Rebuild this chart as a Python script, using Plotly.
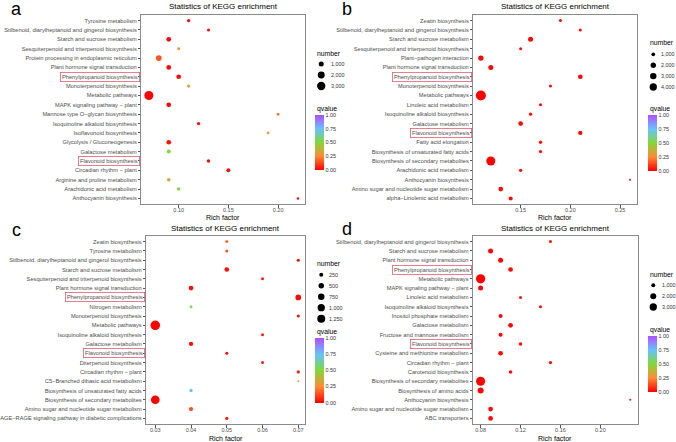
import numpy as np
import plotly.graph_objects as go

W, H = 676, 442

# ---------------- data ----------------
a_terms = ["Tyrosine metabolism", "Stilbenoid, diarylheptanoid and gingerol biosynthesis",
           "Starch and sucrose metabolism", "Sesquiterpenoid and triterpenoid biosynthesis",
           "Protein processing in endoplasmic reticulum", "Plant hormone signal transduction",
           "Phenylpropanoid biosynthesis", "Monoterpenoid biosynthesis", "Metabolic pathways",
           "MAPK signaling pathway − plant", "Mannose type O−glycan biosynthesis",
           "Isoquinoline alkaloid biosynthesis", "Isoflavonoid biosynthesis",
           "Glycolysis / Gluconeogenesis", "Galactose metabolism", "Flavonoid biosynthesis",
           "Circadian rhythm − plant", "Arginine and proline metabolism",
           "Arachidonic acid metabolism", "Anthocyanin biosynthesis"]
a_rich = [0.11, 0.13, 0.09, 0.10, 0.08, 0.09, 0.10, 0.11, 0.07, 0.09,
          0.20, 0.12, 0.19, 0.09, 0.09, 0.13, 0.15, 0.09, 0.10, 0.22]
a_number = [590, 561, 900, 560, 1290, 900, 900, 565, 3629, 900,
            543, 590, 545, 890, 710, 616, 700, 620, 615, 543]
a_qvalue = [0.01, 0.02, 0.01, 0.30, 0.15, 0.01, 0.02, 0.30, 0.00, 0.01,
            0.15, 0.02, 0.30, 0.03, 0.50, 0.02, 0.02, 0.30, 0.50, 0.02]

b_terms = ["Zeatin biosynthesis", "Stilbenoid, diarylheptanoid and gingerol biosynthesis",
           "Starch and sucrose metabolism", "Sesquiterpenoid and triterpenoid biosynthesis",
           "Plant−pathogen interaction", "Plant hormone signal transduction",
           "Phenylpropanoid biosynthesis", "Monoterpenoid biosynthesis", "Metabolic pathways",
           "Linoleic acid metabolism", "Isoquinoline alkaloid biosynthesis", "Galactose metabolism",
           "Flavonoid biosynthesis", "Fatty acid elongation",
           "Biosynthesis of unsaturated fatty acids", "Biosynthesis of secondary metabolites",
           "Arachidonic acid metabolism", "Anthocyanin biosynthesis",
           "Amino sugar and nucleotide sugar metabolism", "alpha−Linolenic acid metabolism"]
b_rich = [0.19, 0.21, 0.16, 0.15, 0.11, 0.12, 0.21, 0.18, 0.11, 0.17,
          0.16, 0.15, 0.21, 0.17, 0.17, 0.12, 0.15, 0.26, 0.13, 0.14]
b_number = [780, 780, 1730, 780, 1950, 1730, 1520, 780, 8271, 790,
            860, 1520, 1300, 860, 860, 6490, 860, 657, 1520, 1130]
b_qvalue = [0.02, 0.02, 0.01, 0.02, 0.01, 0.01, 0.01, 0.02, 0.00, 0.02,
            0.02, 0.01, 0.01, 0.02, 0.02, 0.00, 0.02, 0.03, 0.01, 0.02]

c_terms = ["Zeatin biosynthesis", "Tyrosine metabolism",
           "Stilbenoid, diarylheptanoid and gingerol biosynthesis",
           "Starch and sucrose metabolism", "Sesquiterpenoid and triterpenoid biosynthesis",
           "Plant hormone signal transduction", "Phenylpropanoid biosynthesis",
           "Nitrogen metabolism", "Monoterpenoid biosynthesis", "Metabolic pathways",
           "Isoquinoline alkaloid biosynthesis", "Galactose metabolism", "Flavonoid biosynthesis",
           "Diterpenoid biosynthesis", "Circadian rhythm − plant",
           "C5−Branched dibasic acid metabolism", "Biosynthesis of unsaturated fatty acids",
           "Biosynthesis of secondary metabolites", "Amino sugar and nucleotide sugar metabolism",
           "AGE−RAGE signaling pathway in diabetic complications"]
c_rich = [0.05, 0.05, 0.07, 0.05, 0.06, 0.04, 0.07, 0.04, 0.07, 0.03,
          0.06, 0.04, 0.05, 0.06, 0.07, 0.07, 0.04, 0.03, 0.04, 0.05]
c_number = [150, 156, 156, 350, 156, 350, 550, 156, 156, 1882,
            156, 290, 156, 156, 175, 125, 175, 1500, 290, 175]
c_qvalue = [0.15, 0.15, 0.02, 0.03, 0.05, 0.02, 0.02, 0.55, 0.02, 0.00,
            0.05, 0.02, 0.02, 0.05, 0.05, 0.30, 0.75, 0.00, 0.15, 0.05]

d_terms = ["Stilbenoid, diarylheptanoid and gingerol biosynthesis",
           "Starch and sucrose metabolism", "Plant hormone signal transduction",
           "Phenylpropanoid biosynthesis", "Metabolic pathways", "MAPK signaling pathway − plant",
           "Linoleic acid metabolism", "Isoquinoline alkaloid biosynthesis",
           "Inositol phosphate metabolism", "Galactose metabolism",
           "Fructose and mannose metabolism", "Flavonoid biosynthesis",
           "Cysteine and methionine metabolism", "Circadian rhythm − plant",
           "Carotenoid biosynthesis", "Biosynthesis of secondary metabolites",
           "Biosynthesis of amino acids", "Anthocyanin biosynthesis",
           "Amino sugar and nucleotide sugar metabolism", "ABC transporters"]
d_rich = [0.15, 0.09, 0.10, 0.11, 0.08, 0.08, 0.12, 0.14, 0.10, 0.11,
          0.10, 0.12, 0.10, 0.15, 0.11, 0.08, 0.08, 0.23, 0.09, 0.09]
d_number = [750, 1414, 1414, 1270, 5093, 1414, 750, 750, 1000, 1270,
            1000, 855, 1270, 800, 855, 4750, 2000, 668, 1270, 1270]
d_qvalue = [0.02, 0.01, 0.01, 0.01, 0.00, 0.01, 0.02, 0.02, 0.01, 0.01,
            0.01, 0.02, 0.01, 0.02, 0.02, 0.00, 0.01, 0.03, 0.01, 0.01]

a_breaks = [1000, 2000, 3000]
b_breaks = [1000, 2000, 3000, 4000]
c_breaks = [250, 500, 750, 1000, 1250]
d_breaks = [1000, 2000, 3000]

a_xticks = [0.10, 0.15, 0.20]
b_xticks = [0.15, 0.20, 0.25]
c_xticks = [0.03, 0.04, 0.05, 0.06, 0.07]
d_xticks = [0.08, 0.12, 0.16, 0.20]

q_ticks = [0.0, 0.25, 0.5, 0.75, 1.0]
boxed = ["Phenylpropanoid biosynthesis", "Flavonoid biosynthesis"]
panel_labels = ["a", "b", "c", "d"]

# ---------------- styling / layout helpers ----------------
FONT = "Liberation Sans, Arial, sans-serif"
COLORSCALE = [[0.0, "#FF0000"], [0.25, "#FF8A33"], [0.5, "#80D936"],
              [0.75, "#66C2FF"], [1.0, "#B34DFF"]]
BORDER = "#8A8A8A"
TICKTXT = "#4D4D4D"
CAT_FS = 5.7
TICK_FS = 5.5


def px(x):
    return x / W


def py(y):
    return 1 - y / H


def diam(vals, ref, dmin, dmax):
    vals = np.asarray(vals, dtype=float)
    lo, hi = min(ref), max(ref)
    return dmin + (dmax - dmin) * np.sqrt(np.clip((vals - lo) / (hi - lo), 0, 1))


panels = [
    dict(terms=a_terms, rich=a_rich, num=a_number, q=a_qvalue, breaks=a_breaks,
         xticks=a_xticks, xr=[0.0625, 0.2275], box=(135, 301, 15, 204),
         dsz=(2.5, 9.0), cb=(311, 115, 55), leg=(317, 64, 11, 325),
         numtitle=(311, 53), qtitle=(311, 109), rich_y=217.5, title_y=7, lab=(8.5, 8.5)),
    dict(terms=b_terms, rich=b_rich, num=b_number, q=b_qvalue, breaks=b_breaks,
         xticks=b_xticks, xr=[0.1025, 0.2675], box=(471, 637, 15, 204),
         dsz=(2.0, 10.0), cb=(648, 115, 56), leg=(653, 54.3, 10.9, 659),
         numtitle=(648, 43), qtitle=(648, 109), rich_y=217.5, title_y=7, lab=(343, 8.5)),
    dict(terms=c_terms, rich=c_rich, num=c_number, q=c_qvalue, breaks=c_breaks,
         xticks=c_xticks, xr=[0.0275, 0.072], box=(140, 301, 236, 424),
         dsz=(2.0, 9.5), cb=(311, 337.7, 65), leg=(317, 274.7, 11, 323),
         numtitle=(311, 263.7), qtitle=(311, 331.7), rich_y=438.5, title_y=228.3, lab=(8.5, 230)),
    dict(terms=d_terms, rich=d_rich, num=d_number, q=d_qvalue, breaks=d_breaks,
         xticks=d_xticks, xr=[0.0725, 0.2375], box=(470.7, 637.3, 236, 424),
         dsz=(2.0, 9.3), cb=(648, 336, 56), leg=(653, 285.3, 10.85, 660),
         numtitle=(647.5, 274), qtitle=(647.5, 330), rich_y=438.5, title_y=228, lab=(343, 229)),
]

fig = go.Figure()
annotations = []
layout_axes = {}

for i, p in enumerate(panels):
    n = i + 1
    xa = "x" if n == 1 else f"x{n}"
    ya = "y" if n == 1 else f"y{n}"
    xkey = "xaxis" if n == 1 else f"xaxis{n}"
    ykey = "yaxis" if n == 1 else f"yaxis{n}"
    x0, x1, y0, y1 = p["box"]
    sizes = diam(p["num"], p["num"], *p["dsz"])
    cbx, cby, cblen = p["cb"]

    fig.add_trace(go.Scatter(
        x=p["rich"], y=p["terms"], mode="markers", xaxis=xa, yaxis=ya,
        marker=dict(size=sizes, color=p["q"], cmin=0, cmax=1, colorscale=COLORSCALE,
                    opacity=1, line=dict(width=0),
                    colorbar=dict(x=px(cbx), xanchor="left", y=py(cby), yanchor="top",
                                  len=cblen, lenmode="pixels", thickness=9,
                                  thicknessmode="pixels", xpad=0, ypad=0, outlinewidth=0,
                                  tickmode="array", tickvals=q_ticks,
                                  ticktext=[f"{v:.2f}" for v in q_ticks],
                                  ticks="", ticklen=0,
                                  tickfont=dict(size=5.4, color="#333333", family=FONT))),
        showlegend=False, hoverinfo="skip"))

    ticktext = ["" if t in boxed else t for t in p["terms"]]
    layout_axes[xkey] = dict(domain=[px(x0), px(x1)], range=p["xr"], anchor=ya,
                             tickmode="array", tickvals=p["xticks"],
                             ticktext=[f"{v:.2f}" for v in p["xticks"]],
                             showline=True, mirror=True, linecolor=BORDER, linewidth=1,
                             ticks="outside", ticklen=2.5, tickcolor="#555555", tickwidth=0.8,
                             ticklabelstandoff=-2,
                             tickfont=dict(size=TICK_FS, color=TICKTXT, family=FONT),
                             showgrid=False, zeroline=False, fixedrange=True)
    layout_axes[ykey] = dict(domain=[py(y1), py(y0)], anchor=xa, type="category",
                             categoryorder="array", categoryarray=list(reversed(p["terms"])),
                             range=[-0.6, len(p["terms"]) - 0.4],
                             tickmode="array", tickvals=p["terms"], ticktext=ticktext,
                             showline=True, mirror=True, linecolor=BORDER, linewidth=1,
                             ticks="outside", ticklen=2.5, tickcolor="#555555", tickwidth=0.8,
                             tickfont=dict(size=CAT_FS, color=TICKTXT, family=FONT),
                             showgrid=False, zeroline=False, fixedrange=True)

    # boxed labels
    for t in boxed:
        if t in p["terms"]:
            annotations.append(dict(text=t, xref=f"{xa} domain", x=0, xanchor="right",
                                    xshift=-1.5, yref=ya, y=t, yanchor="middle",
                                    showarrow=False, bordercolor="#E0606E", borderwidth=0.8,
                                    borderpad=1.2,
                                    font=dict(size=CAT_FS, color=TICKTXT, family=FONT)))

    # title / axis title / panel label
    annotations.append(dict(text="Statistics of KEGG enrichment", xref=f"{xa} domain", x=0.5,
                            xanchor="center", yref="paper", y=py(p["title_y"]),
                            yanchor="middle", showarrow=False,
                            font=dict(size=8, color="#000000", family=FONT)))
    annotations.append(dict(text="Rich factor", xref=f"{xa} domain", x=0.5, xanchor="center",
                            yref="paper", y=py(p["rich_y"]), yanchor="middle",
                            showarrow=False, font=dict(size=7, color="#000000", family=FONT)))
    lx, ly = p["lab"]
    annotations.append(dict(text=panel_labels[i], xref="paper", x=px(lx), xanchor="center",
                            yref="paper", y=py(ly), yanchor="middle", showarrow=False,
                            font=dict(size=18, color="#000000", family=FONT)))

    # legend titles
    ntx, nty = p["numtitle"]
    annotations.append(dict(text="number", xref="paper", x=px(ntx), xanchor="left",
                            yref="paper", y=py(nty), yanchor="middle", showarrow=False,
                            font=dict(size=6.8, color="#000000", family=FONT)))
    qtx, qty = p["qtitle"]
    annotations.append(dict(text="qvalue", xref="paper", x=px(qtx), xanchor="left",
                            yref="paper", y=py(qty), yanchor="middle", showarrow=False,
                            font=dict(size=6.8, color="#000000", family=FONT)))

    # size legend on a hidden axis
    ln = n + 4
    lxa, lya = f"x{ln}", f"y{ln}"
    dotx, doty, step, labx = p["leg"]
    nb = len(p["breaks"])
    top = doty - step / 2
    bot = doty + step * (nb - 0.5)
    bsizes = diam(p["breaks"], p["num"], *p["dsz"])
    fig.add_trace(go.Scatter(x=[0] * nb, y=list(range(nb)), mode="markers",
                             xaxis=lxa, yaxis=lya,
                             marker=dict(size=bsizes, color="#000000", opacity=1,
                                         line=dict(width=0)),
                             showlegend=False, hoverinfo="skip"))
    layout_axes[f"xaxis{ln}"] = dict(domain=[px(dotx - 10), px(dotx + 10)], range=[-1, 1],
                                     visible=False, anchor=lya, fixedrange=True)
    layout_axes[f"yaxis{ln}"] = dict(domain=[py(bot), py(top)], range=[nb - 0.5, -0.5],
                                     visible=False, anchor=lxa, fixedrange=True)
    for k, b in enumerate(p["breaks"]):
        annotations.append(dict(text=f"{b:,}", xref="paper", x=px(labx), xanchor="left",
                                yref=lya, y=k, yanchor="middle", showarrow=False,
                                font=dict(size=5.4, color="#333333", family=FONT)))

fig.update_layout(width=W, height=H, margin=dict(l=0, r=0, t=0, b=0),
                  paper_bgcolor="white", plot_bgcolor="white", showlegend=False,
                  font=dict(family=FONT), annotations=annotations, **layout_axes)

fig.write_html("out.html", config={"displayModeBar": False},
               post_script="document.body.style.margin='0px';")
